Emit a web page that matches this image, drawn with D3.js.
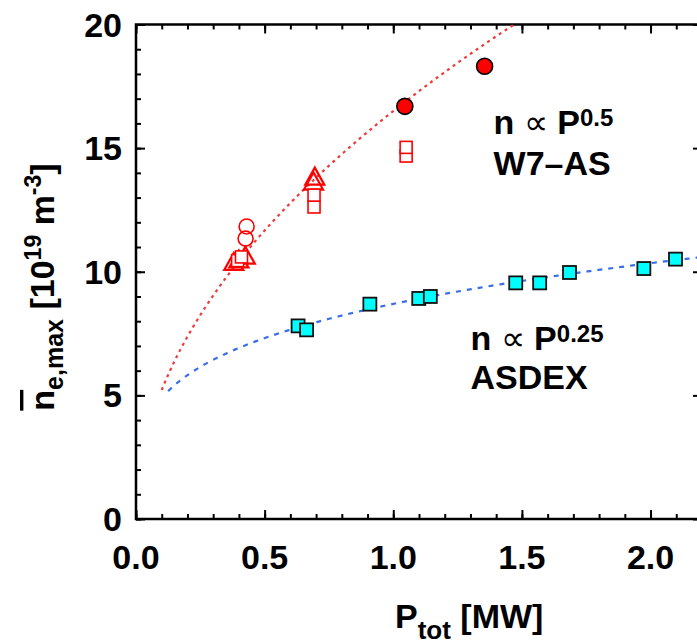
<!DOCTYPE html>
<html><head><meta charset="utf-8">
<script src="https://cdn.jsdelivr.net/npm/d3@7"></script>
<style>
html,body{margin:0;padding:0;background:#fff;}
text{font-family:"Liberation Sans",Arial,Helvetica,sans-serif;font-weight:bold;fill:#000;}
</style></head>
<body>
<svg id="chart" width="697" height="644"></svg>
<script>
// ---- data ----
const xTicks = [0.0, 0.5, 1.0, 1.5, 2.0];
const xTickLabels = ["0.0", "0.5", "1.0", "1.5", "2.0"];
const yTicks = [0, 5, 10, 15, 20];
const yTickLabels = ["0", "5", "10", "15", "20"];

// ASDEX (cyan filled squares)
const asdexP = [0.630, 0.663, 0.909, 1.099, 1.144, 1.476, 1.569, 1.685, 1.974, 2.097];
const asdexN = [7.81, 7.65, 8.69, 8.92, 9.00, 9.55, 9.55, 9.97, 10.13, 10.51];

// W7-AS filled circles
const w7FilledCircleP = [1.045, 1.355];
const w7FilledCircleN = [16.69, 18.31];
// W7-AS open circles
const w7OpenCircleP = [0.430, 0.426];
const w7OpenCircleN = [11.83, 11.34];
// W7-AS open squares
const w7SquareP = [0.395, 0.410, 0.692, 0.692, 1.050, 1.050];
const w7SquareN = [10.45, 10.60, 12.62, 13.10, 14.68, 15.03];
// W7-AS open triangles
const w7TriangleP = [0.380, 0.400, 0.425, 0.690, 0.695];
const w7TriangleN = [10.35, 10.45, 10.60, 13.60, 13.80];

// power-law fits n = c * P^k
const w7Fit = {c: 16.5, k: 0.5, pStart: 0.1, pEnd: 1.6};
const asdexFit = {c: 8.7, k: 0.25, pStart: 0.125, pEnd: 2.2};

// ---- layout ----
const svg = d3.select("#chart");
const pL = 136, pR = 702, pT = 24.5, pB = 519;
const x = d3.scaleLinear().domain([0, 2.2]).range([pL, pR]);
const y = d3.scaleLinear().domain([0, 20]).range([pB, pT]);

svg.append("defs").append("clipPath").attr("id", "clip")
  .append("rect").attr("x", pL).attr("y", pT).attr("width", pR - pL).attr("height", pB - pT);

// ---- ticks (inward) ----
const ax = svg.append("g");
function tickAxis(axisFn, scale, majors, minors, transform, majorLen, minorLen) {
  const gMin = ax.append("g").attr("transform", transform)
    .call(axisFn(scale).tickValues(minors).tickSize(minorLen).tickFormat(""));
  const gMaj = ax.append("g").attr("transform", transform)
    .call(axisFn(scale).tickValues(majors).tickSize(majorLen).tickFormat(""));
  [gMin, gMaj].forEach(g => {
    g.select(".domain").remove();
    g.selectAll(".tick line").attr("stroke", "#000").attr("stroke-width", 2);
  });
}
const xMinor = d3.range(0, 23).map(i => +(i * 0.1).toFixed(1)).filter(v => v <= 2.2);
const yMinor = d3.range(0, 21);
const xMajor = [0, 0.5, 1.0, 1.5, 2.0];
tickAxis(d3.axisTop, x, xMajor, xMinor, `translate(0,${pB})`, 9, 5);
tickAxis(d3.axisBottom, x, xMajor, xMinor, `translate(0,${pT})`, 9, 5);
tickAxis(d3.axisRight, y, yTicks, yMinor, `translate(${pL},0)`, 9, 5);
tickAxis(d3.axisLeft, y, yTicks, yMinor, `translate(${pR},0)`, 9, 5);

// frame
svg.append("rect").attr("x", pL).attr("y", pT).attr("width", pR - pL).attr("height", pB - pT)
  .attr("fill", "none").attr("stroke", "#000").attr("stroke-width", 2.5);

// tick labels
svg.append("g").selectAll("text").data(xTicks).join("text")
  .attr("x", d => x(d)).attr("y", pB + 50)
  .attr("text-anchor", "middle").attr("font-size", 34)
  .text((d, i) => xTickLabels[i]);
svg.append("g").selectAll("text").data(yTicks).join("text")
  .attr("x", pL - 14).attr("y", d => y(d) + 12)
  .attr("text-anchor", "end").attr("font-size", 34)
  .text((d, i) => yTickLabels[i]);

// axis titles
const xt = svg.append("text").attr("x", 395).attr("y", 628).attr("font-size", 34);
xt.append("tspan").text("P");
xt.append("tspan").attr("font-size", 26).attr("dy", 11).text("tot");
xt.append("tspan").attr("dy", -11).text(" [MW]");

const yt = svg.append("text").attr("transform", "translate(54,287) rotate(-90)")
  .attr("text-anchor", "middle").attr("font-size", 34);
yt.append("tspan").style("text-decoration", "overline").text("n");
yt.append("tspan").attr("font-size", 25).attr("dy", 9).text("e,max");
yt.append("tspan").attr("dy", -9).text(" [10");
yt.append("tspan").attr("font-size", 23).attr("dy", -13).text("19");
yt.append("tspan").attr("dy", 13).text(" m");
yt.append("tspan").attr("font-size", 23).attr("dy", -13).text("-3");
yt.append("tspan").attr("dy", 13).text("]");

// ---- plot ----
const plot = svg.append("g").attr("clip-path", "url(#clip)");
const line = d3.line().x(d => x(d[0])).y(d => y(d[1]));
function fitPts(f) {
  const n = 200;
  return d3.range(n + 1).map(i => {
    const p = f.pStart + (f.pEnd - f.pStart) * i / n;
    return [p, f.c * Math.pow(p, f.k)];
  });
}
plot.append("path").datum(fitPts(w7Fit)).attr("d", line)
  .attr("fill", "none").attr("stroke", "#f03a3a").attr("stroke-width", 2.2)
  .attr("stroke-dasharray", "3,4");
plot.append("path").datum(fitPts(asdexFit)).attr("d", line)
  .attr("fill", "none").attr("stroke", "#3a6ee8").attr("stroke-width", 2.2)
  .attr("stroke-dasharray", "5,6");

// W7-AS open triangles
const triW = 19, triH = 17;
plot.append("g").selectAll("path").data(w7TriangleP).join("path")
  .attr("d", (d, i) => {
    const cx = x(d), cy = y(w7TriangleN[i]);
    return `M${cx},${cy - triH * 0.6}L${cx + triW / 2},${cy + triH * 0.4}L${cx - triW / 2},${cy + triH * 0.4}Z`;
  })
  .attr("fill", "none").attr("stroke", "#ff0000").attr("stroke-width", 2.2);
// W7-AS open squares
const sq = 12;
plot.append("g").selectAll("rect").data(w7SquareP).join("rect")
  .attr("x", d => x(d) - sq / 2).attr("y", (d, i) => y(w7SquareN[i]) - sq / 2)
  .attr("width", sq).attr("height", sq)
  .attr("fill", "#fff").attr("stroke", "#ff0000").attr("stroke-width", 1.6);
// W7-AS open circles
plot.append("g").selectAll("circle").data(w7OpenCircleP).join("circle")
  .attr("cx", d => x(d)).attr("cy", (d, i) => y(w7OpenCircleN[i])).attr("r", 7.5)
  .attr("fill", "none").attr("stroke", "#ff0000").attr("stroke-width", 1.6);
// W7-AS filled circles
plot.append("g").selectAll("circle").data(w7FilledCircleP).join("circle")
  .attr("cx", d => x(d)).attr("cy", (d, i) => y(w7FilledCircleN[i])).attr("r", 8)
  .attr("fill", "#ff0000").attr("stroke", "#000").attr("stroke-width", 1.6);
// ASDEX squares
const sq2 = 13;
plot.append("g").selectAll("rect").data(asdexP).join("rect")
  .attr("x", d => x(d) - sq2 / 2).attr("y", (d, i) => y(asdexN[i]) - sq2 / 2)
  .attr("width", sq2).attr("height", sq2)
  .attr("fill", "#00ffff").attr("stroke", "#111").attr("stroke-width", 1.8);

// ---- annotations ----
function powerLabel(px, pyTop, pyBottom, expo, name) {
  const t = svg.append("text").attr("x", x(px)).attr("y", y(pyTop)).attr("font-size", 34);
  t.append("tspan").text("n ");
  t.append("tspan").attr("font-weight", "normal").attr("font-size", 34).text("\u221D");
  t.append("tspan").text(" P");
  t.append("tspan").attr("font-size", 24).attr("dy", -8).text(expo);
  svg.append("text").attr("x", x(px)).attr("y", y(pyBottom)).attr("font-size", 34).text(name);
}
powerLabel(1.39, 15.59, 13.93, "0.5", "W7\u2013AS");
powerLabel(1.30, 6.85, 5.24, "0.25", "ASDEX");
</script>
</body></html>
